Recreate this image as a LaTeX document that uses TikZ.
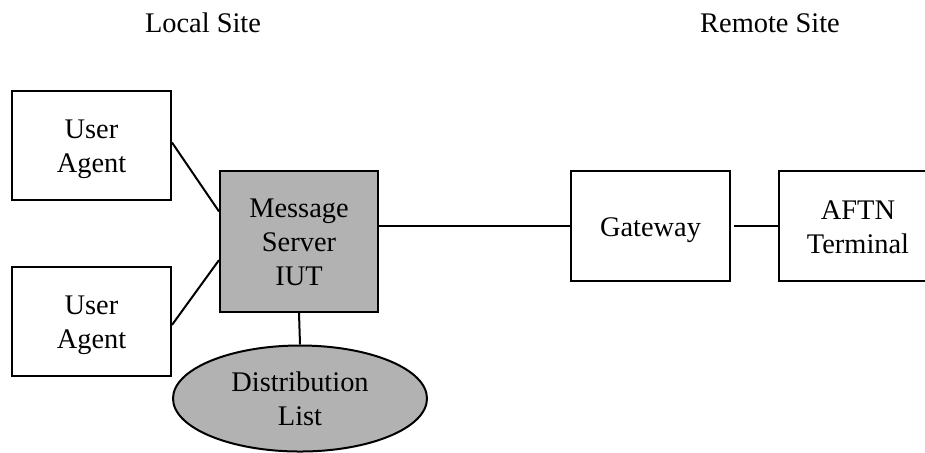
\documentclass[tikz,border=0pt]{standalone}
\usepackage{fontspec}
\setmainfont{Liberation Serif}
\usetikzlibrary{calc,shapes.geometric}
% box label: stacked lines, set slightly below the box centre
\newcommand{\boxlabel}[1]{\raisebox{-1.6pt}[\height][\depth]{\begin{tabular}{@{}c@{}}#1\end{tabular}}}
\begin{document}
\begin{tikzpicture}[x=0.5pt,y=-0.5pt,
  every node/.style={font=\fontsize{14.2}{17}\selectfont, align=center, inner sep=0pt},
  box/.style={draw, line width=1pt, rectangle},
  serverbox/.style={box, fill=black!30},
  listshape/.style={draw, line width=1pt, ellipse, fill=black!30},
  link/.style={line width=1pt}]
  \useasboundingbox (0,0) rectangle (925,452);
  \begin{scope}
  \clip (0,0) rectangle (925,452);
  % site headings
  \node (local) at (203,23) {Local Site};
  \node (remote) at (770,23) {Remote Site};
  % local site
  \node[box, minimum width=79.5pt, minimum height=54.5pt] (ua1) at (91.5,145.5) {\boxlabel{User\\Agent}};
  \node[box, minimum width=79.5pt, minimum height=54.5pt] (ua2) at (91.5,321.5) {\boxlabel{User\\Agent}};
  \node[serverbox, minimum width=79pt, minimum height=70.5pt] (ms) at (299,241.5) {\boxlabel{Message\\Server\\IUT}};
  \node[listshape, minimum width=127pt, minimum height=53pt] (dl) at (300,398.5) {Distribution\\List};
  % remote site
  \node[box, minimum width=79.5pt, minimum height=55pt] (gw) at (650.5,226) {\boxlabel{Gateway}};
  \node[box, minimum width=79pt, minimum height=55pt] (aftn) at (858,226) {\boxlabel{AFTN\\Terminal}};
  % connectors
  \draw[link] ([yshift=1.5pt]ua1.east) -- ($(ms.north west)!0.29!(ms.south west)$);
  \draw[link] ([yshift=-1.7pt]ua2.east) -- ($(ms.north west)!0.63!(ms.south west)$);
  \draw[link] (ms.south) -- (dl.north);
  \draw[link] (gw.west) -- (gw.west -| ms.east);
  \draw[link, shorten <=1.5pt] (gw.east) -- (aftn.west);
  \end{scope}
\end{tikzpicture}
\end{document}
